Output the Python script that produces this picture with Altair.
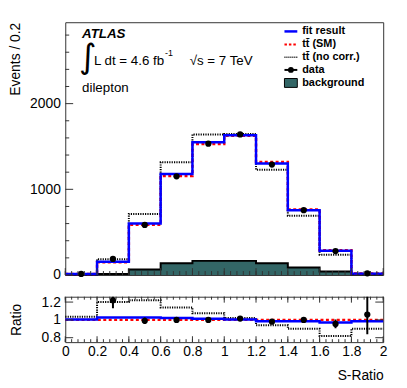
import altair as alt
import pandas as pd

# ---------------- data ----------------
edges = [0.0, 0.2, 0.4, 0.6, 0.8, 1.0, 1.2, 1.4, 1.6, 1.8, 2.0]
centers = [0.1, 0.3, 0.5, 0.7, 0.9, 1.1, 1.3, 1.5, 1.7, 1.9]
fit_result = [12, 154, 600, 1178, 1550, 1632, 1302, 755, 282, 16]
tt_sm = [12, 150, 585, 1155, 1528, 1625, 1320, 765, 290, 17]
tt_nocorr = [12, 184, 713, 1315, 1640, 1645, 1228, 692, 236, 15]
data_vals = [12, 188, 585, 1152, 1533, 1640, 1289, 756, 279, 20]
background = [5, 12, 65, 138, 165, 165, 138, 88, 42, 8]

ratio_fit = [1.005, 1.027, 1.027, 1.02, 1.012, 1.005, 0.985, 0.985, 0.97, 0.985]
ratio_nocorr = [1.035, 1.2, 1.22, 1.14, 1.075, 1.02, 0.94, 0.9, 0.82, 0.9]
ratio_centers = [0.3, 0.5, 0.7, 0.9, 1.1, 1.3, 1.5, 1.7, 1.9]
ratio_data = [1.22, 0.99, 1.0, 1.0, 1.015, 0.98, 1.0, 0.955, 1.06]
ratio_err = [0.09, 0.037, 0.025, 0.02, 0.015, 0.02, 0.03, 0.05, 0.22]

y_major = [0, 1000, 2000]
y_minor = [200, 400, 600, 800, 1200, 1400, 1600, 1800, 2200, 2400, 2600, 2800]
x_labels = [0, 0.2, 0.4, 0.6, 0.8, 1, 1.2, 1.4, 1.6, 1.8, 2]
x_minor = [round(i * 0.04, 2) for i in range(51)]
r_major = [0.8, 1, 1.2]

legend_labels = ["fit result", "tt\u0304 (SM)", "tt\u0304 (no corr.)", "data", "background"]

# ---------------- helpers ----------------
W, H, HR = 322, 256, 46
FONT = "Liberation Sans"
TEAL = "#336666"

xs = alt.Scale(domain=[0, 2], nice=False, zero=False)
ys = alt.Scale(domain=[0, 2950], nice=False)
rs = alt.Scale(domain=[0.75, 1.26], nice=False, zero=False)

y_axis = alt.Axis(values=y_major, format="d", title="Events / 0.2", titleAnchor="end",
                  titlePadding=7, labelPadding=5, labelOverlap=False)
r_axis = alt.Axis(values=r_major, format="~g", title="Ratio", titlePadding=18, labelPadding=5,
                  labelOverlap=False)
x_axis = alt.Axis(values=x_labels, format="~g", title="S-Ratio", titleAnchor="end",
                  labelPadding=3, titlePadding=10, labelFlush=False, labelOverlap=False)


def step_df(vals):
    return pd.DataFrame({"x": edges, "y": list(vals) + [vals[-1]]})


one = alt.Data(values=[{"a": 1}])


def MX():
    return alt.X("x:Q", scale=xs, axis=None)


def MY():
    return alt.Y("y:Q", scale=ys, axis=y_axis)


def RX():
    return alt.X("x:Q", scale=xs, axis=x_axis)


def RY():
    return alt.Y("y:Q", scale=rs, axis=r_axis)


def txt(s, x, y, size=13.5, weight="normal", style="normal", font=FONT, baseline="alphabetic"):
    return alt.Chart(one).mark_text(align="left", baseline=baseline, fontSize=size, font=font,
                                    fontWeight=weight, fontStyle=style, color="black").encode(
        x=alt.value(x), y=alt.value(y), text=alt.value(s))


# ---------------- main panel ----------------
bkg_area = alt.Chart(step_df(background)).mark_area(interpolate="step-after", color=TEAL, opacity=1).encode(x=MX(), y=MY())
bkg_line = alt.Chart(step_df(background)).mark_line(interpolate="step-after", color="black", strokeWidth=2).encode(x=MX(), y=MY())
nocorr_line = alt.Chart(step_df(tt_nocorr)).mark_line(interpolate="step-after", color="black", strokeWidth=2,
                                                      strokeDash=[1.2, 1.2]).encode(x=MX(), y=MY())
sm_line = alt.Chart(step_df(tt_sm)).mark_line(interpolate="step-after", color="#ff0000", strokeWidth=2.5,
                                              strokeDash=[3, 2.5]).encode(x=MX(), y=MY())
fit_line = alt.Chart(step_df(fit_result)).mark_line(interpolate="step-after", color="#0000ff", strokeWidth=2.5).encode(x=MX(), y=MY())
pts = alt.Chart(pd.DataFrame({"x": centers, "y": data_vals})).mark_point(
    filled=True, shape="circle", size=40, color="black", opacity=1).encode(x=MX(), y=MY())

ytick_major = alt.Chart(pd.DataFrame({"y": y_major})).mark_rule(color="#333", strokeWidth=1).encode(
    x=alt.value(0), x2=alt.value(8), y=MY())
ytick_minor = alt.Chart(pd.DataFrame({"y": y_minor})).mark_rule(color="#333", strokeWidth=1).encode(
    x=alt.value(0), x2=alt.value(4), y=MY())
xtick_main_major = alt.Chart(pd.DataFrame({"x": x_labels})).mark_rule(color="#333", strokeWidth=1).encode(
    x=MX(), y=alt.value(H), y2=alt.value(H - 7))
xtick_main_minor = alt.Chart(pd.DataFrame({"x": x_minor})).mark_rule(color="#333", strokeWidth=1).encode(
    x=MX(), y=alt.value(H), y2=alt.value(H - 4))

# annotations
annot = [
    txt("ATLAS", 17, 16, size=13.5, weight="bold", style="italic"),
    txt("\u222b", 14, 46, size=34, font="DejaVu Sans"),
    txt("L dt = 4.6 fb", 29, 43.5),
    txt("-1", 101, 34, size=9),
    txt("\u221as = 7 TeV", 126, 43.5),
    txt("dilepton", 17, 71),
]

# legend
LX0, LX1, LT = 222, 235, 240
ly = [9.3, 22.5, 35.5, 48.3, 61.5]
leg = [
    alt.Chart(one).mark_rule(color="#0000ff", strokeWidth=2.5).encode(x=alt.value(LX0), x2=alt.value(LX1), y=alt.value(ly[0])),
    alt.Chart(one).mark_rule(color="#ff0000", strokeWidth=2, strokeDash=[2.5, 2]).encode(x=alt.value(LX0), x2=alt.value(LX1), y=alt.value(ly[1])),
    alt.Chart(one).mark_rule(color="black", strokeWidth=1.5, strokeDash=[1, 1]).encode(x=alt.value(LX0), x2=alt.value(LX1), y=alt.value(ly[2])),
    alt.Chart(one).mark_rule(color="black", strokeWidth=2).encode(x=alt.value(LX0), x2=alt.value(LX1), y=alt.value(ly[3])),
    alt.Chart(one).mark_point(filled=True, shape="circle", size=35, color="black", opacity=1).encode(
        x=alt.value((LX0 + LX1) / 2), y=alt.value(ly[3])),
    alt.Chart(one).mark_rect(color=TEAL, stroke="black", strokeWidth=1).encode(
        x=alt.value(LX0), x2=alt.value(LX1), y=alt.value(ly[4] - 4.5), y2=alt.value(ly[4] + 4.5)),
]
for i, lab in enumerate(legend_labels):
    leg.append(txt(lab, LT, ly[i], size=11, weight="bold", baseline="middle"))

main = alt.layer(bkg_area, bkg_line, nocorr_line, sm_line, fit_line, pts,
                 ytick_major, ytick_minor, xtick_main_major, xtick_main_minor,
                 *annot, *leg).properties(width=W, height=H)

# ---------------- ratio panel ----------------
r_sm = alt.Chart(one).mark_rule(color="#ff0000", strokeWidth=2.5, strokeDash=[3, 2.5]).encode(
    y=alt.datum(1.0, scale=rs, axis=r_axis))
r_nocorr = alt.Chart(step_df(ratio_nocorr)).mark_line(interpolate="step-after", color="black", strokeWidth=2,
                                                      strokeDash=[1.2, 1.2]).encode(x=RX(), y=RY())
r_fit = alt.Chart(step_df(ratio_fit)).mark_line(interpolate="step-after", color="#0000ff", strokeWidth=2.5).encode(x=RX(), y=RY())
rdf = pd.DataFrame({"x": ratio_centers, "y": ratio_data,
                    "lo": [v - e for v, e in zip(ratio_data, ratio_err)],
                    "hi": [v + e for v, e in zip(ratio_data, ratio_err)]})
r_err = alt.Chart(rdf).mark_rule(color="black", strokeWidth=2, clip=True).encode(
    x=RX(), y=alt.Y("lo:Q", scale=rs, axis=r_axis), y2="hi:Q")
r_pts = alt.Chart(rdf).mark_point(filled=True, shape="circle", size=40, color="black", opacity=1).encode(x=RX(), y=RY())

r_ytl = alt.Chart(pd.DataFrame({"y": r_major})).mark_rule(color="#333", strokeWidth=1).encode(
    x=alt.value(0), x2=alt.value(8), y=RY())
r_ytr = alt.Chart(pd.DataFrame({"y": r_major})).mark_rule(color="#333", strokeWidth=1).encode(
    x=alt.value(W), x2=alt.value(W - 8), y=RY())
r_xb_major = alt.Chart(pd.DataFrame({"x": x_labels})).mark_rule(color="#333", strokeWidth=1).encode(
    x=RX(), y=alt.value(HR), y2=alt.value(HR - 6))
r_xb_minor = alt.Chart(pd.DataFrame({"x": x_minor})).mark_rule(color="#333", strokeWidth=1).encode(
    x=RX(), y=alt.value(HR), y2=alt.value(HR - 3))
r_xt_major = alt.Chart(pd.DataFrame({"x": x_labels})).mark_rule(color="#333", strokeWidth=1).encode(
    x=RX(), y=alt.value(0), y2=alt.value(6))
r_xt_minor = alt.Chart(pd.DataFrame({"x": x_minor})).mark_rule(color="#333", strokeWidth=1).encode(
    x=RX(), y=alt.value(0), y2=alt.value(3))

ratio = alt.layer(r_nocorr, r_sm, r_fit, r_err, r_pts, r_ytl, r_ytr,
                  r_xb_major, r_xb_minor, r_xt_major, r_xt_minor).properties(width=W, height=HR)

chart = alt.vconcat(main, ratio, spacing=11).properties(
    padding={"left": 0, "top": 11, "right": 10, "bottom": 0},
    background="white",
).configure_view(stroke="#333", strokeWidth=1).configure_axis(
    labelFont=FONT, labelFontSize=14, labelColor="black",
    titleFont=FONT, titleFontSize=14, titleFontWeight="normal", titleColor="black",
    grid=False, ticks=False, domain=False
)

chart.save("out.html", embed_options={"renderer": "svg", "actions": False})
